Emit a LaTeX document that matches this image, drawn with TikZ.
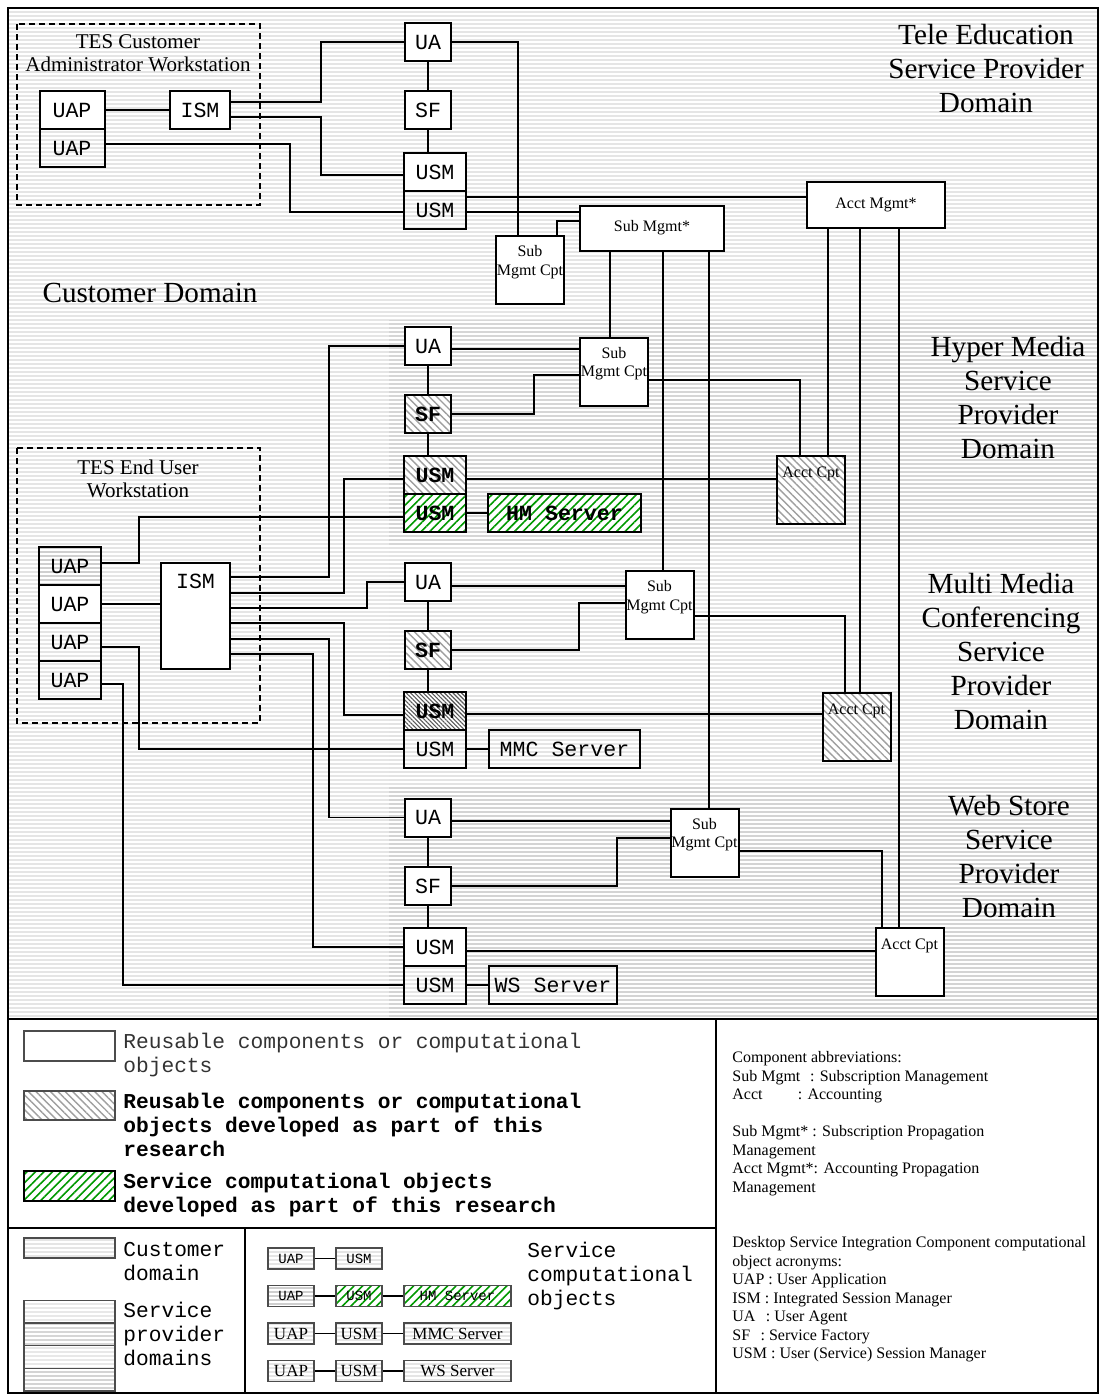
\documentclass[tikz,border=0pt]{standalone}
\usepackage{fontspec}
\setmainfont{Liberation Serif}
\setmonofont{Liberation Mono}
\usetikzlibrary{patterns.meta}

\newcommand{\boxfont}{\ttfamily\fontsize{10.8}{12}\selectfont}
\newcommand{\smallfont}{\fontsize{8}{9.25}\selectfont}
\newcommand{\domainfont}{\fontsize{14.6}{17}\selectfont}
\newcommand{\wsfont}{\fontsize{10.5}{11.5}\selectfont}
\newcommand{\legendfont}{\ttfamily\fontsize{10.6}{12}\selectfont}

\begin{document}
\begin{tikzpicture}[x=0.5pt, y=-0.5pt,
        box/.style={draw, line width=1pt, inner sep=0pt, fill=white, font=\boxfont},
        stripes/.style={preaction={fill=#1}, pattern={Lines[angle=0,distance=2pt,line width=0.8pt]}, pattern color=white},
        cust/.style={box, stripes=gray!20},
        custdark/.style={box, stripes=gray!38},
        hatch/.style={box, preaction={fill=white}, pattern={Lines[angle=-45,distance=2.6pt,line width=0.7pt]}, pattern color=gray!75, font=\boxfont\bfseries},
        densehatch/.style={hatch, pattern={Lines[angle=-45,distance=1.5pt,line width=0.55pt]}, pattern color=gray!70!black},
        svcfill/.style={preaction={fill=white}, pattern={Lines[angle=45,distance=3pt,line width=0.8pt]}, pattern color=green!60!black},
        svcbox/.style={box, svcfill, font=\boxfont\bfseries},
        uasize/.style={minimum width=23pt, minimum height=19pt},
        usmsize/.style={minimum width=31pt, minimum height=19pt},
        cptsize/.style={minimum width=34pt, minimum height=34pt},
        cpttext/.style={font=\smallfont, align=center, inner sep=0pt},
        wire/.style={line width=0.9pt},
        frame/.style={line width=1.2pt},
        wsarea/.style={dashed, line width=0.9pt, dash pattern=on 3pt off 2pt},
        dom/.style={font=\domainfont, align=center},
        lgbox/.style={draw=gray!60!black, line width=0.6pt, inner sep=0pt, minimum height=10.5pt},
        lgtext/.style={font=\legendfont, align=left, anchor=north west, inner sep=0pt}
    ]
    \useasboundingbox (0,0) rectangle (1099,1394);

    % Domains
    \fill[stripes=gray!20] (8,8) rectangle (1098,1019);
    \fill[stripes=gray!32] (389,320) rectangle (1098,545);
    \fill[stripes=gray!22] (389,545) rectangle (1098,785);
    \fill[stripes=gray!34] (389,785) rectangle (1098,1019);

    \node[dom] (teLbl) at (986,69) {Tele Education\\Service Provider\\Domain};
    \node[dom] (custLbl) at (150,293) {Customer Domain};
    \node[dom] (hmLbl) at (1008,398) {Hyper Media\\Service\\Provider\\Domain};
    \node[dom] (mmcLbl) at (1001,651) {Multi Media\\Conferencing\\Service\\Provider\\Domain};
    \node[dom] (wsLbl) at (1009,856) {Web Store\\Service\\Provider\\Domain};

    % Workstations
    \draw[wsarea] (17,24) rectangle (260,205);
    \node[font=\wsfont, align=center] (adminLbl) at (138,53) {TES Customer\\Administrator Workstation};
    \draw[wsarea] (17,448) rectangle (260,723);
    \node[font=\wsfont, align=center] (endLbl) at (138,479) {TES End User\\Workstation};

    % Tele Education
    \node[box, minimum width=32.5pt, minimum height=19pt] (uapA1) at (72,110) {UAP};
    \node[cust, minimum width=32.5pt, minimum height=19pt] (uapA2) at (72,148) {UAP};
    \node[box, minimum width=30pt, minimum height=19pt] (ismA) at (200,110) {ISM};
    \node[box, uasize] (uaT) at (428,42) {UA};
    \node[box, uasize] (sfT) at (428,110) {SF};
    \node[box, usmsize] (usmT1) at (435,172) {USM};
    \node[cust, usmsize] (usmT2) at (435,210) {USM};
    \node[box, cptsize] (smcT) at (530,270) {};
    \node[box, minimum width=72pt, minimum height=22.5pt, font=\smallfont] (subM) at (652,228) {Sub Mgmt*};
    \node[box, minimum width=69pt, minimum height=23pt, font=\smallfont] (acctM) at (876,205) {Acct Mgmt*};

    % Hyper Media
    \node[box, uasize] (uaH) at (428,346) {UA};
    \node[hatch, uasize] (sfH) at (428,414) {SF};
    \node[hatch, usmsize] (usmH) at (435,475) {USM};
    \node[svcbox, usmsize] (usmHs) at (435,513) {USM};
    \node[svcbox, minimum width=76.5pt, minimum height=19pt] (hmSrv) at (564.5,513) {HM Server};
    \node[box, cptsize] (smcH) at (614,371.5) {};
    \node[hatch, cptsize] (acH) at (811,489.5) {};

    % Multi Media Conferencing
    \node[box, uasize] (uaM) at (428,582) {UA};
    \node[hatch, uasize] (sfM) at (428,650) {SF};
    \node[densehatch, usmsize] (usmM) at (435,711) {USM};
    \node[cust, usmsize] (usmMc) at (435,749) {USM};
    \node[cust, minimum width=75.5pt, minimum height=19pt] (mmcSrv) at (564.5,749) {MMC Server};
    \node[box, cptsize] (smcM) at (659.5,605) {};
    \node[hatch, cptsize] (acM) at (856.5,726.5) {};

    % Web Store
    \node[box, uasize] (uaW) at (428,817.5) {UA};
    \node[box, uasize] (sfW) at (428,886) {SF};
    \node[box, usmsize] (usmW) at (435,947) {USM};
    \node[cust, usmsize] (usmWc) at (435,985) {USM};
    \node[cust, minimum width=64pt, minimum height=19pt] (wsSrv) at (553,985) {WS Server};
    \node[box, cptsize] (smcW) at (704.5,842.5) {};
    \node[box, cptsize] (acW) at (909.5,962) {};

    \foreach \n in {smcT, smcH, smcM, smcW}
        \node[cpttext] (\n-txt) at ([yshift=4pt]\n.center) {Sub\\Mgmt Cpt};
    \foreach \n in {acH, acM, acW}
        \node[cpttext] (\n-txt) at ([yshift=-9.5pt]\n.north) {Acct Cpt};

    % End user workstation
    \node[custdark, usmsize] (uapE1) at (70,566) {UAP};
    \node[box, usmsize] (uapE2) at (70,604) {UAP};
    \node[cust, usmsize] (uapE3) at (70,642) {UAP};
    \node[cust, usmsize] (uapE4) at (70,680) {UAP};
    \node[box, minimum width=34.5pt, minimum height=53pt,
          label={[font=\boxfont, anchor=north, yshift=-6pt, inner sep=0pt]north:ISM}] (ismE) at (195.5,616) {};

    % Vertical chains UA - SF - USM
    \foreach \a/\b/\c in {uaT/sfT/usmT1, uaH/sfH/usmH, uaM/sfM/usmM, uaW/sfW/usmW}
        \draw[wire] (\a.south) -- (\b.north) (\b.south) -- (\b.south |- \c.north);

    % Connectors: Tele Education
    \draw[wire] (uapA1) -- (ismA);
    \draw[wire] (ismA.east |- 0,102) -| (321,42) -- (uaT.west);
    \draw[wire] (ismA.east |- 0,117) -| (321,175) -- (usmT1.west |- 0,175);
    \draw[wire] (uapA2.east |- 0,144) -| (290,212) -- (usmT2.west |- 0,212);
    \draw[wire] (uaT.east) -| (smcT.north -| 518,0);
    \draw[wire] (usmT2.east |- 0,197) -- (acctM.west |- 0,197);
    \draw[wire] (usmT2.east |- 0,212) -- (subM.west |- 0,212);
    \draw[wire] (smcT.north -| 557,0) |- (subM.west |- 0,221);
    \foreach \x/\t in {610/smcH, 663/smcM, 709/smcW}
        \draw[wire] (subM.south -| \x,0) -- (\t.north -| \x,0);
    \foreach \x/\t in {828/acH, 860/acM, 899/acW}
        \draw[wire] (acctM.south -| \x,0) -- (\t.north -| \x,0);

    % Connectors: Hyper Media
    \draw[wire] (uaH.east |- 0,349) -- (smcH.west |- 0,349);
    \draw[wire] (sfH.east) -| (534,375) -- (smcH.west |- 0,375);
    \draw[wire] (smcH.east |- 0,380) -| (acH.north -| 800,0);
    \draw[wire] (usmH.east |- 0,479) -- (acH.west |- 0,479);
    \draw[wire] (usmHs) -- (hmSrv);

    % Connectors: Multi Media Conferencing
    \draw[wire] (uaM.east |- 0,586) -- (smcM.west |- 0,586);
    \draw[wire] (sfM.east) -| (579,603) -- (smcM.west |- 0,603);
    \draw[wire] (smcM.east |- 0,616) -| (acM.north -| 845,0);
    \draw[wire] (usmM.east |- 0,714) -- (acM.west |- 0,714);
    \draw[wire] (usmMc) -- (mmcSrv);

    % Connectors: Web Store
    \draw[wire] (uaW.east |- 0,821) -- (smcW.west |- 0,821);
    \draw[wire] (sfW.east) -| (617,838) -- (smcW.west |- 0,838);
    \draw[wire] (smcW.east |- 0,851) -| (acW.north -| 882,0);
    \draw[wire] (usmW.east |- 0,951) -- (acW.west |- 0,951);
    \draw[wire] (usmWc) -- (wsSrv);

    % Connectors: end user workstation
    \draw[wire] (uapE1.east |- 0,563) -| (139,517) -- (usmHs.west |- 0,517);
    \draw[wire] (uapE2.east) -- (uapE2.east -| ismE.west);
    \draw[wire] (ismE.east |- 0,577) -| (329,346) -- (uaH.west);
    \draw[wire] (ismE.east |- 0,593) -| (344,479) -- (usmH.west |- 0,479);
    \draw[wire] (ismE.east |- 0,608) -| (367,582) -- (uaM.west);
    \draw[wire] (ismE.east |- 0,623) -| (344,715) -- (usmM.west |- 0,715);
    \draw[wire] (ismE.east |- 0,639) -| (329,817.5) -- (uaW.west);
    \draw[wire] (ismE.east |- 0,654) -| (313,947) -- (usmW.west);
    \draw[wire] (uapE3.east |- 0,647) -| (139,749) -- (usmMc.west);
    \draw[wire] (uapE4.east |- 0,684) -| (123,985) -- (usmWc.west);

    % Frames
    \draw[frame] (8,8) rectangle (1098,1393);
    \draw[frame] (8,1019) -- (1098,1019);
    \draw[frame] (716,1019) -- (716,1393);
    \draw[frame] (8,1228) -- (716,1228);
    \draw[frame] (245,1228) -- (245,1393);

    % Legend
    \node[lgbox, fill=white, minimum width=45.5pt, minimum height=15pt] (lgWhite) at (69.5,1046) {};
    \node[lgbox, preaction={fill=white}, pattern={Lines[angle=-45,distance=2.6pt,line width=0.7pt]}, pattern color=gray!75,
          minimum width=45.5pt, minimum height=14.5pt] (lgHatch) at (69.5,1105.5) {};
    \node[lgbox, draw=black, svcfill, minimum width=45.5pt, minimum height=15pt] (lgSvc) at (69.5,1186) {};
    \node[lgtext, text=black!80] (lgWhiteTxt) at (123,1033) {Reusable components or computational\\objects};
    \node[lgtext, font=\legendfont\bfseries] (lgHatchTxt) at (123,1093) {Reusable components or computational\\objects developed as part of this\\research};
    \node[lgtext, font=\legendfont\bfseries] (lgSvcTxt) at (123,1173) {Service computational objects\\developed as part of this research};

    \node[lgbox, stripes=gray!20, minimum width=45.5pt, minimum height=10pt] (lgCust) at (69.5,1248) {};
    \node[lgtext] (lgCustTxt) at (123,1242) {Customer\\domain};
    \foreach \y/\c [count=\i] in {1311.5/gray!18, 1334.5/gray!32, 1357/gray!18, 1379.5/gray!34}
        \node[lgbox, stripes=\c, minimum width=45.5pt, minimum height=11.4pt] (lgSp\i) at (69.5,\y) {};
    \node[lgtext] (lgSpTxt) at (123,1302) {Service\\provider\\domains};

    \node[lgbox, stripes=gray!20, minimum width=23pt, font=\ttfamily\fontsize{7}{8}\selectfont] (r1uap) at (291,1258.5) {UAP};
    \node[lgbox, stripes=gray!20, minimum width=23pt, font=\ttfamily\fontsize{7}{8}\selectfont] (r1usm) at (359,1258.5) {USM};
    \node[lgbox, stripes=gray!38, minimum width=23pt, font=\ttfamily\fontsize{7}{8}\selectfont] (r2uap) at (291,1296) {UAP};
    \node[lgbox, svcfill, minimum width=23pt, font=\ttfamily\fontsize{7}{8}\selectfont] (r2usm) at (359,1296) {USM};
    \node[lgbox, svcfill, minimum width=53.5pt, font=\ttfamily\fontsize{7}{8}\selectfont] (r2srv) at (457.5,1296) {HM Server};
    \foreach \y/\s/\r in {1333.5/MMC Server/3, 1371/WS Server/4} {
        \node[lgbox, stripes=gray!20, minimum width=23pt, font=\fontsize{8.5}{9}\selectfont] (r\r uap) at (291,\y) {UAP};
        \node[lgbox, stripes=gray!20, minimum width=23pt, font=\fontsize{8.5}{9}\selectfont] (r\r usm) at (359,\y) {USM};
        \node[lgbox, stripes=gray!20, minimum width=53.5pt, font=\fontsize{8.5}{9}\selectfont] (r\r srv) at (457.5,\y) {\s};
    }
    \draw[wire] (r1uap) -- (r1usm);
    \draw[wire] (r2uap) -- (r2usm) -- (r2srv);
    \draw[wire] (r3uap) -- (r3usm) -- (r3srv);
    \draw[wire] (r4uap) -- (r4usm) -- (r4srv);
    \node[lgtext] (lgObjTxt) at (527,1242) {Service\\computational\\objects};

    \node[font=\smallfont, align=left, anchor=north west, inner sep=0pt] (abbrTxt) at (732,1051) {%
        Component abbreviations:\\
        Sub Mgmt\hspace{0.6em}: Subscription Management\\
        Acct\hspace{2.2em}: Accounting\\[9.25pt]
        Sub Mgmt* : Subscription Propagation\\
        Management\\
        Acct Mgmt*: Accounting Propagation\\
        Management\\[18.5pt]
        Desktop Service Integration Component computational\\
        object acronyms:\\
        UAP : User Application\\
        ISM : Integrated Session Manager\\
        UA\hspace{0.4em} : User Agent\\
        SF\hspace{0.4em} : Service Factory\\
        USM : User (Service) Session Manager};
\end{tikzpicture}
\end{document}
